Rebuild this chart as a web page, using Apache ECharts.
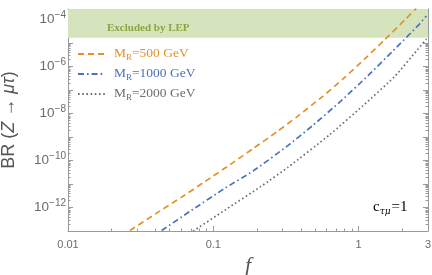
<!DOCTYPE html>
<html><head><meta charset="utf-8">
<script src="https://cdn.jsdelivr.net/npm/echarts@6/dist/echarts.min.js"></script>
<style>html,body{margin:0;padding:0;background:#fff}#c{width:432px;height:275px}</style>
</head><body><div id="c"></div>
<script>
// ---- data ----
const fMR500  = [0.0267,0.0407,0.0604,0.0874,0.130,0.188,0.272,0.383,0.569,0.780,1.10,1.51,2.13,2.49];
const brMR500 = [1.05e-13,5.75e-13,2.75e-12,1.26e-11,6.6e-11,3.24e-10,1.62e-9,7.9e-9,5.5e-8,2.95e-7,2.09e-6,1.38e-5,1.12e-4,2.95e-4];
const fMR1000  = [0.0441,0.0708,0.120,0.188,0.327,0.485,0.760,1.16,1.72,2.56,2.92];
const brMR1000 = [1.05e-13,7.6e-13,6.6e-12,3.6e-11,4.4e-10,3.16e-9,3.55e-8,4.1e-7,4.6e-6,5.5e-5,1.41e-4];
const fMR2000  = [0.0726,0.123,0.214,0.327,0.632,1.07,1.77,2.54,2.93];
const brMR2000 = [9.8e-14,8.5e-13,8.1e-12,5.2e-11,1.26e-9,2.14e-8,3.8e-7,5.2e-6,1.48e-5];
const seriesNames = ['MR=500 GeV','MR=1000 GeV','MR=2000 GeV'];
const xTickLabels = ['0.01','0.1','1','3'];
const yLabelExponents = [-12,-10,-8,-6,-4];
const lepBound = 1.68e-5;
const xRange = [0.01, 3];
const yRange = [1e-13, 2.8e-4];

const colors = ['#E3922B','#4A72BE','#6E6E6E'];
const dashes = [[6,4],[6,3,1.6,3],[1.6,2.6]];
const pairs = (xs, ys) => xs.map((x,i)=>[x, ys[i]]);
const seriesData = [pairs(fMR500,brMR500), pairs(fMR1000,brMR1000), pairs(fMR2000,brMR2000)];

const axisGray = '#9a9a9a';
const labelGray = '#6b6b6b';
const serif = "'Liberation Serif','Times New Roman',serif";
const sans = "'Liberation Sans',Arial,sans-serif";

function isPow(v){ const l = Math.log10(v); return Math.abs(l - Math.round(l)) < 1e-6; }

const chart = echarts.init(document.getElementById('c'), null, {renderer:'canvas'});
const xCommon = {
  type:'log', logBase:10, min:xRange[0], max:xRange[1], interval:1,
  axisLine:{show:true, lineStyle:{color:axisGray, width:1}},
  axisTick:{show:true, inside:true, length:5, lineStyle:{color:axisGray}},
  minorTick:{show:true, splitNumber:9, length:2.5, lineStyle:{color:axisGray}},
  splitLine:{show:false}, minorSplitLine:{show:false}
};
const yCommon = {
  type:'log', logBase:10, min:yRange[0], max:yRange[1], interval:1,
  axisLine:{show:true, onZero:false, lineStyle:{color:axisGray, width:1}},
  axisTick:{show:true, inside:true, length:5, lineStyle:{color:axisGray}},
  minorTick:{show:true, splitNumber:9, length:2.5, lineStyle:{color:axisGray}},
  splitLine:{show:false}, minorSplitLine:{show:false}
};

const option = {
  animation:false,
  grid:{left:68, right:4, top:9, bottom:44, containLabel:false, outerBoundsMode:'none'},
  xAxis:[
    Object.assign({}, xCommon, {position:'bottom',
      name:'{i|f}', nameLocation:'middle', nameGap:18,
      nameTextStyle:{rich:{i:{fontFamily:serif, fontStyle:'italic', fontSize:22, color:'#555'}}},
      axisLabel:{show:true, margin:8, fontSize:11, fontFamily:sans, color:labelGray,
        formatter:v=>{ const s = String(+(+v).toPrecision(6)); return xTickLabels.includes(s) ? s : ''; }}}),
    Object.assign({}, xCommon, {position:'top', axisLabel:{show:false}})
  ],
  yAxis:[
    Object.assign({}, yCommon, {position:'left',
      name:'{n|BR (}{i|Z}{n| → }{i|μτ}{n|)}', nameLocation:'middle', nameGap:50, nameRotate:90,
      nameTextStyle:{rich:{
        n:{fontFamily:sans, fontSize:18, color:'#555'},
        i:{fontFamily:sans, fontStyle:'italic', fontSize:18, color:'#555'}}},
      axisLabel:{show:true, margin:2, formatter:v=>{
          if(!isPow(v)) return '';
          const e = Math.round(Math.log10(v));
          return yLabelExponents.includes(e) ? '{a|10}{b|−'+(-e)+'}' : '';
        },
        rich:{
          a:{fontFamily:sans, fontSize:13.5, lineHeight:18, color:labelGray, verticalAlign:'middle'},
          b:{fontFamily:sans, fontSize:10, lineHeight:10, color:labelGray, verticalAlign:'top'}
        }}}),
    Object.assign({}, yCommon, {position:'right', axisLabel:{show:false}})
  ],
  legend:{
    orient:'vertical', left:77, top:45.5, padding:0, itemWidth:27, itemHeight:12, itemGap:3,
    itemStyle:{opacity:0, borderWidth:0},
    data: seriesNames.map((n,i)=>({name:n, textStyle:{rich:{
      m:{fontFamily:serif, fontSize:13.5, color:colors[i], padding:[0,0,0,4], lineHeight:15, verticalAlign:'top'},
      r:{fontFamily:serif, fontSize:9, color:colors[i], lineHeight:9, padding:[8,0,0,0]},
      t:{fontFamily:serif, fontSize:13.5, color:colors[i], lineHeight:15, verticalAlign:'top'}
    }}})),
    formatter: n => '{m|M}{r|R}{t|' + n.slice(2) + '}'
  },
  graphic:[
    {type:'text', left:107, top:23, z:100, silent:true,
      style:{text:'Excluded by LEP', font:"bold 11px "+serif, fill:'#8aa63c'}},
    {type:'text', left:373, top:199, z:100, silent:true,
      style:{text:'{c|c}{s|τμ}{e|=1}', rich:{
        c:{fontFamily:serif, fontSize:15, color:'#222', lineHeight:16, verticalAlign:'top'},
        s:{fontFamily:"'DejaVu Serif',serif", fontStyle:'italic', fontSize:9, color:'#222', lineHeight:10, padding:[8,1,0,0]},
        e:{fontFamily:serif, fontSize:15, color:'#222', lineHeight:16, verticalAlign:'top'}
      }}}
  ],
  series:[
    {type:'line', name:'band', data:[], silent:true, xAxisIndex:0, yAxisIndex:0,
      markArea:{silent:true, itemStyle:{color:'#d6e4be'}, data:[[{yAxis:lepBound},{yAxis:yRange[1]}]]},
      markLine:{silent:true, symbol:'none', label:{show:false}, lineStyle:{color:'#bfd39c', width:1, type:'solid'}, data:[{yAxis:lepBound}]}
    }
  ].concat(seriesNames.map((n,i)=>({
    type:'line', name:n, data:seriesData[i], showSymbol:false, symbol:'none', smooth:0.2, clip:true,
    xAxisIndex:0, yAxisIndex:0,
    lineStyle:{color:colors[i], width:1.7, type:dashes[i]},
    itemStyle:{color:colors[i]}
  })))
};
chart.setOption(option);
</script>
</body></html>
